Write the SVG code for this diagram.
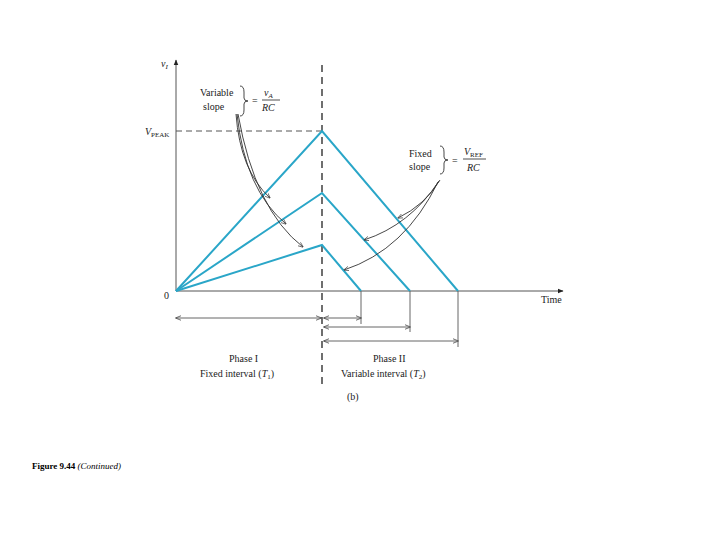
<svg xmlns="http://www.w3.org/2000/svg" width="720" height="540" viewBox="0 0 720 540">
<style>
.t{font-family:"Liberation Serif",serif;font-size:10px;fill:#222}
.i{font-style:italic}
.ax{stroke:#555;stroke-width:1;fill:none}
.bl{stroke:#2aa6c8;stroke-width:2;fill:none}
.dim{stroke:#666;stroke-width:1;fill:none}
.cv{stroke:#333;stroke-width:0.9;fill:none}
</style>
<defs>
<marker id="ah" viewBox="0 0 10 10" refX="9" refY="5" markerWidth="6" markerHeight="6" orient="auto-start-reverse"><path d="M0,1 L10,5 L0,9" fill="none" stroke="#444" stroke-width="1.3"/></marker>
<marker id="fa" viewBox="0 0 10 10" refX="9" refY="5" markerWidth="6" markerHeight="6" orient="auto"><path d="M0,1 L10,5 L0,9 Z" fill="#222"/></marker>
</defs>
<rect width="720" height="540" fill="#fff"/>
<g id="axes">
<line class="ax" x1="176" y1="291" x2="176" y2="60" marker-end="url(#fa)"/>
<line class="ax" x1="176" y1="291" x2="563" y2="291" marker-end="url(#fa)"/>
<line x1="322" y1="65" x2="322" y2="385" stroke="#222" stroke-width="1.3" stroke-dasharray="7,5"/>
<line x1="176" y1="131" x2="322" y2="131" stroke="#555" stroke-dasharray="6,4"/>
</g>
<g id="waves">
<polyline class="bl" points="176,291 322,131 458,291"/>
<polyline class="bl" points="176,291 322,193 410,291"/>
<polyline class="bl" points="176,291 322,245 361,291"/>
</g>
<g id="connectors">
<line class="dim" x1="176" y1="318" x2="321" y2="318" marker-start="url(#ah)" marker-end="url(#ah)"/>
<line class="dim" x1="324" y1="318" x2="361" y2="318" marker-start="url(#ah)" marker-end="url(#ah)"/>
<line class="dim" x1="324" y1="327" x2="410" y2="327" marker-start="url(#ah)" marker-end="url(#ah)"/>
<line class="dim" x1="324" y1="341" x2="458" y2="341" marker-start="url(#ah)" marker-end="url(#ah)"/>
<line class="dim" x1="361" y1="291" x2="361" y2="324"/>
<line class="dim" x1="410" y1="291" x2="410" y2="332"/>
<line class="dim" x1="458" y1="291" x2="458" y2="347"/>
<path class="cv" d="M236,114 Q240,170 270,198" marker-end="url(#ah)"/>
<path class="cv" d="M237,114 Q245,190 286,224" marker-end="url(#ah)"/>
<path class="cv" d="M238,114 Q255,210 303,247" marker-end="url(#ah)"/>
<path class="cv" d="M440,180 Q425,205 398,218" marker-end="url(#ah)"/>
<path class="cv" d="M439,181 Q410,225 364,240" marker-end="url(#ah)"/>
<path class="cv" d="M438,182 Q405,250 344,270" marker-end="url(#ah)"/>
</g>
<g id="labels">
<text class="t i" x="161" y="67">v<tspan font-size="7" dy="2">I</tspan></text>
<text class="t i" x="145" y="135">V<tspan font-size="7" dy="2" font-style="normal">PEAK</tspan></text>
<text class="t" x="164" y="299">0</text>
<text class="t" x="541" y="303">Time</text>
<text class="t" x="200" y="96">Variable</text>
<text class="t" x="203" y="110">slope</text>
<path d="M240,86 q4,0 4,6 v6 q0,3 4,3 q-4,0 -4,3 v6 q0,6 -4,6" class="cv"/>
<text class="t" x="252" y="104">=</text>
<text class="t i" x="264" y="96">v<tspan font-size="7" dy="2">A</tspan></text>
<line x1="262" y1="100" x2="280" y2="100" stroke="#222" stroke-width="0.8"/>
<text class="t i" x="262" y="111">RC</text>
<text class="t" x="409" y="157">Fixed</text>
<text class="t" x="409" y="170">slope</text>
<path d="M440,146 q4,0 4,6 v5 q0,3 4,3 q-4,0 -4,3 v5 q0,6 -4,6" class="cv"/>
<text class="t" x="452" y="164">=</text>
<text class="t i" x="464" y="155">V<tspan font-size="7" dy="2" font-style="normal">REF</tspan></text>
<line x1="463" y1="159" x2="486" y2="159" stroke="#222" stroke-width="0.8"/>
<text class="t i" x="467" y="171">RC</text>
<text class="t" x="229" y="362">Phase I</text>
<text class="t" x="200" y="377">Fixed interval (<tspan class="i">T</tspan><tspan font-size="7" dy="2">1</tspan><tspan dy="-2">)</tspan></text>
<text class="t" x="373" y="362">Phase II</text>
<text class="t" x="341" y="377">Variable interval (<tspan class="i">T</tspan><tspan font-size="7" dy="2">2</tspan><tspan dy="-2">)</tspan></text>
<text class="t" x="347" y="400">(b)</text>
<text x="32" y="469" style="font-family:'Liberation Serif',serif;font-size:9px"><tspan font-weight="bold">Figure 9.44</tspan>  <tspan font-style="italic">(Continued)</tspan></text>
</g>
</svg>
